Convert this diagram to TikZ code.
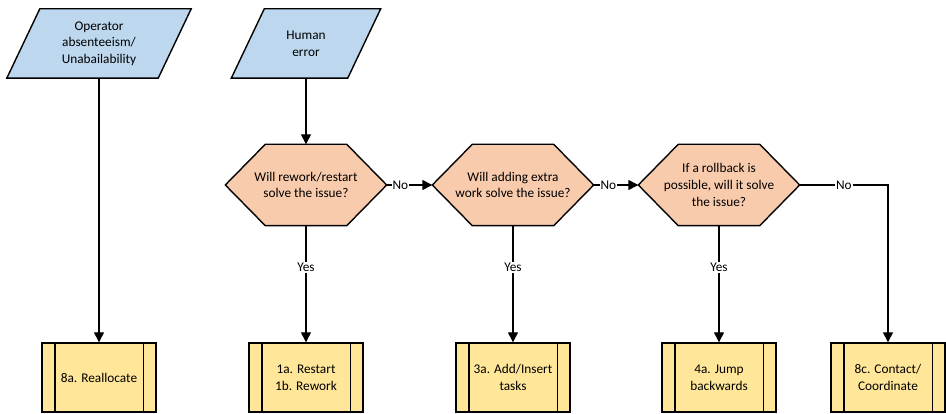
\documentclass[tikz,border=0pt]{standalone}
\usepackage{fontspec}
\setmainfont{Carlito}
\usetikzlibrary{calc,arrows.meta}
\definecolor{datafill}{HTML}{BDD7EE}
\definecolor{decfill}{HTML}{F8CBAD}
\definecolor{procfill}{HTML}{FFE699}
\begin{document}
\begin{tikzpicture}[x=1pt,y=1pt,
  line width=1.4pt,
  txt/.style={font=\fontsize{13.3}{16.7}\selectfont, align=center, inner sep=0pt},
  shapeline/.style={draw=black, line width=1.4pt, line join=miter},
  databox/.style={txt, minimum width=115pt, minimum height=68pt},
  decbox/.style={txt, minimum width=160pt, minimum height=80pt},
  procbox/.style={txt, draw=black, fill=procfill, line width=1.4pt, minimum width=114pt, minimum height=69pt},
  link/.style={draw=black, line width=1.4pt, -{Triangle[length=10pt,width=10pt]}},
  lbl/.style={fill=white, inner sep=1pt, font=\fontsize{13.3}{15}\selectfont}
]
\useasboundingbox (0,0) rectangle (946,414);

% input (data) shapes: parallelograms
\newcommand{\datashape}[2]{%
  \path[shapeline, fill=datafill]
    ($(#1.south west)+(-16.5,0)$) -- ($(#1.north west)+(16.5,0)$) --
    ($(#1.north east)+(16.5,0)$) -- ($(#1.south east)+(-16.5,0)$) -- cycle;
  \node[txt] at (#1) {#2};}
% decisions: elongated hexagons
\newcommand{\decshape}[2]{%
  \path[shapeline, fill=decfill]
    (#1.west) -- ($(#1.north west)+(40,0)$) -- ($(#1.north east)+(-40,0)$) --
    (#1.east) -- ($(#1.south east)+(-40,0)$) -- ($(#1.south west)+(40,0)$) -- cycle;
  \node[txt] at (#1) {#2};}
% processes: predefined-process boxes
\newcommand{\procbars}[1]{%
  \draw ($(#1.north west)+(13.5,0)$) -- ($(#1.south west)+(13.5,0)$);
  \draw ($(#1.north east)+(-13.5,0)$) -- ($(#1.south east)+(-13.5,0)$);}

\node[databox, minimum width=150pt] (absent) at (99,370.5) {};
\datashape{absent}{Operator\\absenteeism/\\Unabailability}
\node[databox] (human) at (306,370.5) {};
\datashape{human}{Human\\error}

\node[decbox] (q1) at (306,229) {};
\decshape{q1}{Will rework/restart\\solve the issue?}
\node[decbox] (q2) at (513,229) {};
\decshape{q2}{Will adding extra\\work solve the issue?}
\node[decbox] (q3) at (719,229) {};
\decshape{q3}{If a rollback is\\possible, will it solve\\the issue?}

\node[procbox] (realloc) at (99,36.5) {8a. Reallocate};
\node[procbox] (restart) at (306,36.5) {1a. Restart\\1b. Rework};
\node[procbox] (insert) at (513,36.5) {3a. Add/Insert\\tasks};
\node[procbox] (jump) at (719,36.5) {4a. Jump\\backwards};
\node[procbox] (contact) at (888,36.5) {8c. Contact/\\Coordinate};
\procbars{realloc}
\procbars{restart}
\procbars{insert}
\procbars{jump}
\procbars{contact}

\draw[link] (absent.south) -- (realloc.north);
\draw[link] (human.south) -- (q1.north);
\draw[link] (q1.east) -- node[lbl, pos=0.3] {No} (q2.west);
\draw[link] (q2.east) -- node[lbl, pos=0.33] {No} (q3.west);
\draw[link] (q3.east) -| node[lbl, pos=0.25] {No} (contact.north);
\draw[link] (q1.south) -- node[lbl, pos=0.36] {Yes} (restart.north);
\draw[link] (q2.south) -- node[lbl, pos=0.36] {Yes} (insert.north);
\draw[link] (q3.south) -- node[lbl, pos=0.36] {Yes} (jump.north);
\end{tikzpicture}
\end{document}
